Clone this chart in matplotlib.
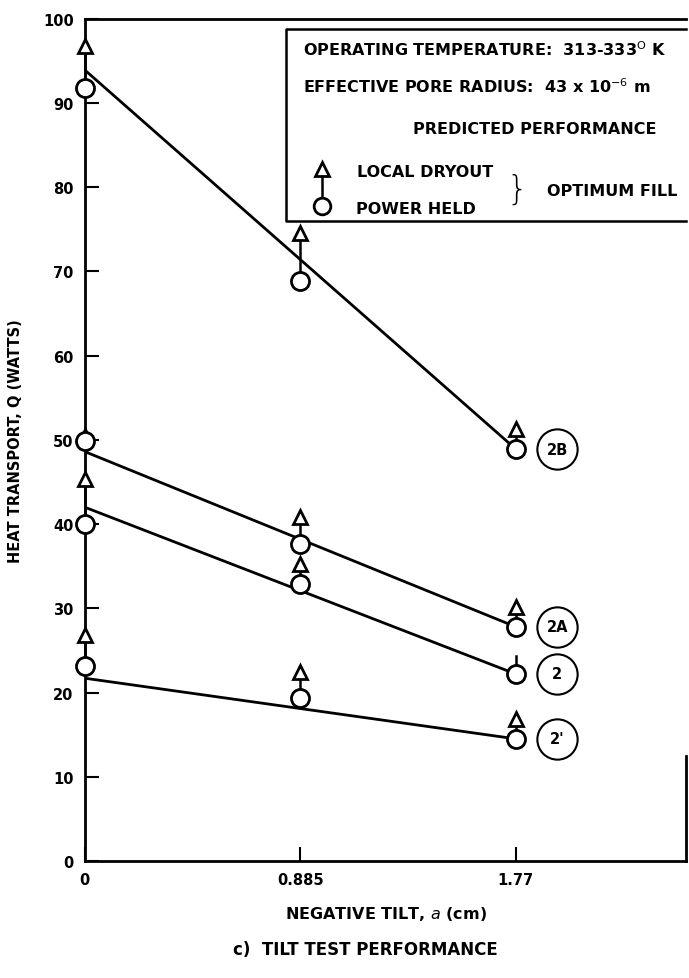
import matplotlib.pyplot as plt
import numpy as np

plt.rcParams['font.family'] = ['DejaVu Sans']

# tilt positions (cm)
tilt = [0.0, 0.885, 1.77]
tick_labels = ['0', '0.885', '1.77']

# measured data: local dryout (triangles) and power held (circles)
series = ['2B', '2A', '2', "2'"]
dryout = {'2B': [96.7, 74.5, 51.3], '2A': [50.5, 40.8, 30.2],
          '2': [45.3, 35.3, 24.3], "2'": [26.8, 22.4, 16.9]}
held = {'2B': [91.8, 68.8, 48.9], '2A': [49.8, 37.6, 27.8],
        '2': [40.0, 32.9, 22.2], "2'": [23.2, 19.3, 14.5]}
# predicted performance lines (value at 0 and at 1.77)
pred = {'2B': [93.9, 48.9], '2A': [48.6, 27.8], '2': [42.0, 22.2], "2'": [21.7, 14.5]}
# last point of series 2 has only the stem, no triangle
no_tri_last = ['2']
label_x = 1.94

fig = plt.figure(figsize=(6.89, 9.79), dpi=100)
ax = fig.add_axes([0.123, 0.1195, 0.873, 0.8605])

for s in series:
    ax.plot([tilt[0], tilt[-1]], pred[s], color='black', lw=2, solid_capstyle='butt')
    for i, x in enumerate(tilt):
        ax.plot([x, x], [held[s][i], dryout[s][i]], color='black', lw=1.8, zorder=2, clip_on=False)
        if not (s in no_tri_last and i == 2):
            ax.plot(x, dryout[s][i], marker='^', ms=10, mfc='white', mec='black', mew=2,
                    zorder=3, clip_on=False)
        ax.plot(x, held[s][i], marker='o', ms=13, mfc='white', mec='black', mew=2,
                zorder=3, clip_on=False)
    # series label in circle
    ax.plot(label_x, held[s][-1], marker='o', ms=29, mfc='white', mec='black', mew=1.5)
    ax.text(label_x, held[s][-1], s, ha='center', va='center', fontsize=10.5, fontweight='bold')

ax.set_xlim(0, 2.47)
ax.set_ylim(0, 100)
ax.set_xticks(tilt)
ax.set_xticklabels(tick_labels)
ax.set_yticks(np.arange(0, 101, 10))
ax.tick_params(direction='in', length=10, width=1.5, labelsize=10.5, pad=8)
for lab in ax.get_xticklabels() + ax.get_yticklabels():
    lab.set_fontweight('bold')
for sp in ax.spines.values():
    sp.set_linewidth(2)
ax.spines['right'].set_visible(False)
ax.plot([1, 1], [0, 0.125], transform=ax.transAxes, color='black', lw=2, clip_on=False)

ax.set_ylabel('HEAT TRANSPORT, Q (WATTS)', fontsize=10.5, fontweight='bold', labelpad=14)
ax.set_xlabel('NEGATIVE TILT, $a$ (cm)', fontsize=11.5, fontweight='bold', labelpad=12)
fig.text(0.53, 1 - 950 / 979, 'c)  TILT TEST PERFORMANCE', ha='center', va='center',
         fontsize=12, fontweight='bold')

# legend box
ax.plot([1.0, 0.334, 0.334, 1.0], [0.760, 0.760, 0.988, 0.988], transform=ax.transAxes,
        color='black', lw=1.8, clip_on=False)
tk = dict(transform=ax.transAxes, fontsize=11.5, fontweight='bold', va='center')
ax.text(0.363, 0.964, 'OPERATING TEMPERATURE:  313-333$^{\\mathrm{O}}$ K', **tk)
ax.text(0.363, 0.920, 'EFFECTIVE PORE RADIUS:  43 x 10$^{-6}$ m', **tk)
ax.text(0.546, 0.869, 'PREDICTED PERFORMANCE', **tk)
ax.plot([0.394, 0.394], [0.777, 0.820], transform=ax.transAxes, color='black', lw=1.8)
ax.plot(0.394, 0.822, marker='^', ms=10, mfc='white', mec='black', mew=2, transform=ax.transAxes)
ax.plot(0.394, 0.777, marker='o', ms=12, mfc='white', mec='black', mew=2, transform=ax.transAxes)
ax.text(0.453, 0.818, 'LOCAL DRYOUT', **tk)
ax.text(0.451, 0.774, 'POWER HELD', **tk)
ax.text(0.719, 0.797, '}', transform=ax.transAxes, fontsize=24, ha='center', va='center',
        fontweight='light')
ax.text(0.769, 0.796, 'OPTIMUM FILL', **tk)

fig.savefig('out.png', dpi=100)
